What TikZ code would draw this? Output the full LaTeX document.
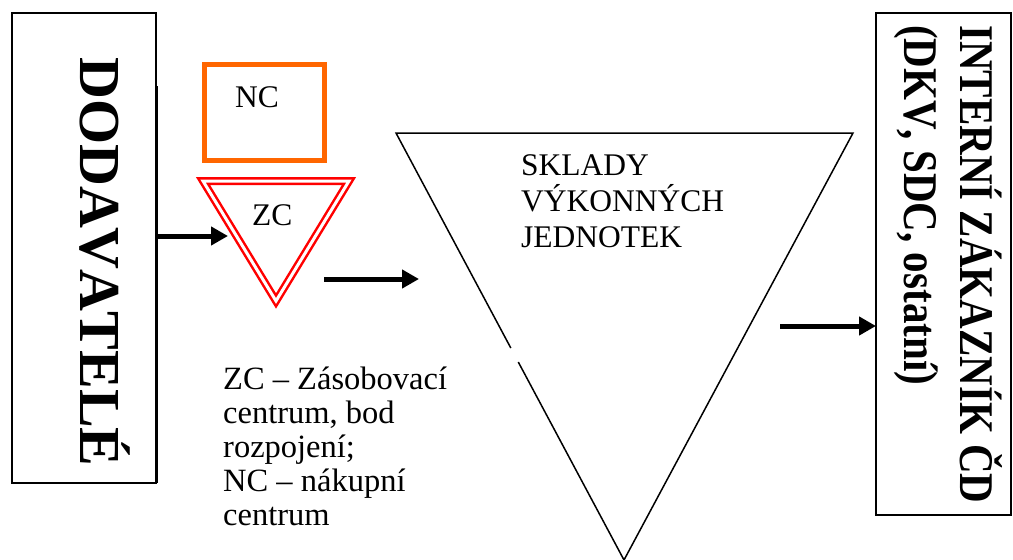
\documentclass[tikz,border=0pt]{standalone}
\usepackage{fontspec}
\setmainfont{Liberation Serif}
\newfontfamily\plainbold{Liberation Serif}[Kerning=Off]
\usetikzlibrary{arrows.meta,calc}
\definecolor{ncorange}{HTML}{FF6600}
\definecolor{zcred}{HTML}{FF0000}
\begin{document}
\begin{tikzpicture}[x=1pt,y=-1pt,
  panel/.style={draw=black, line width=1.5pt, inner sep=0pt, outer sep=0pt},
  flow/.style={line width=5pt, -{Triangle[length=17pt,width=18pt]}},
  lbl/.style={font=\fontsize{31.5}{36}\selectfont, inner sep=0pt, align=left},
  legendtxt/.style={font=\fontsize{32.5}{34}\selectfont, inner sep=0pt, align=left},
  tallbold/.style={font=\plainbold\fontsize{58}{62}\bfseries\selectfont, rotate=-90, inner sep=0pt},
  narrowbold/.style={font=\plainbold\fontsize{41}{45}\bfseries\selectfont, rotate=-90, inner sep=0pt},
  zcline/.style={draw=zcred, line width=2.5pt, double=white, double distance=3pt, line join=miter},
  bigtri/.style={draw=black, line width=1.5pt, line join=miter}]
\useasboundingbox (0,0) rectangle (1013,560);

% suppliers (left panel)
\node[panel, minimum width=144pt, minimum height=470pt] (dod) at (84,248) {};
\draw[line width=3pt] (156.5,86) -- (156.5,483);
\node[tallbold, anchor=base west] (dodtxt) at (80,57) {DODAVATELÉ};

% internal customer (right panel)
\node[panel, minimum width=135pt, minimum height=502pt] (icd) at (943.5,264) {};
\node[narrowbold, anchor=base west] (icd1) at (960,25) {\scalebox{1}[1.18]{INTERNÍ ZÁKAZNÍK ČD}};
\node[narrowbold, anchor=base west] (icd2) at (904,25) {\scalebox{1}[1.18]{(DKV, SDC, ostatní)}};

% purchasing centre
\node[draw=ncorange, line width=5pt, minimum width=120pt, minimum height=96pt, inner sep=0pt, outer sep=0pt] (nc) at (264.5,112.5) {};
\node[lbl, anchor=base west] (nctxt) at (235,107) {NC};

% supply centre (double red triangle)
\coordinate (zl) at (203,181);
\coordinate (zr) at (349,181);
\coordinate (zb) at (276,301);
\draw[zcline] (zl) -- (zr) -- (zb) -- cycle;
\node[lbl, anchor=base west] (zctxt) at (252,225) {ZC};

% warehouses of the operating units
\coordinate (tl) at (396,133);
\coordinate (tr) at (853,133);
\coordinate (bt) at (624,560);
\draw[bigtri] ($(tl)!0.5035!(bt)$) -- (tl) -- (tr) -- (bt) -- ($(tl)!0.5363!(bt)$);
% multi-line nodes: the base anchor sits on the last line
\node[lbl, anchor=base west] (skl) at (521,247) {SKLADY\\VÝKONNÝCH\\JEDNOTEK};

% legend
\node[legendtxt, anchor=base west] (legend) at (223,525) {ZC – Zásobovací\\centrum, bod\\rozpojení;\\NC – nákupní\\centrum};

% flows
\coordinate (a1e) at (228,236);
\draw[flow] (dod.east |- a1e) -- (a1e);
\coordinate (a2s) at (324,279);
\coordinate (a2e) at (419,279);
\draw[flow] (a2s) -- (a2e);
\coordinate (a3s) at (780,326);
\draw[flow] (a3s) -- (icd.west |- a3s);
\end{tikzpicture}
\end{document}
